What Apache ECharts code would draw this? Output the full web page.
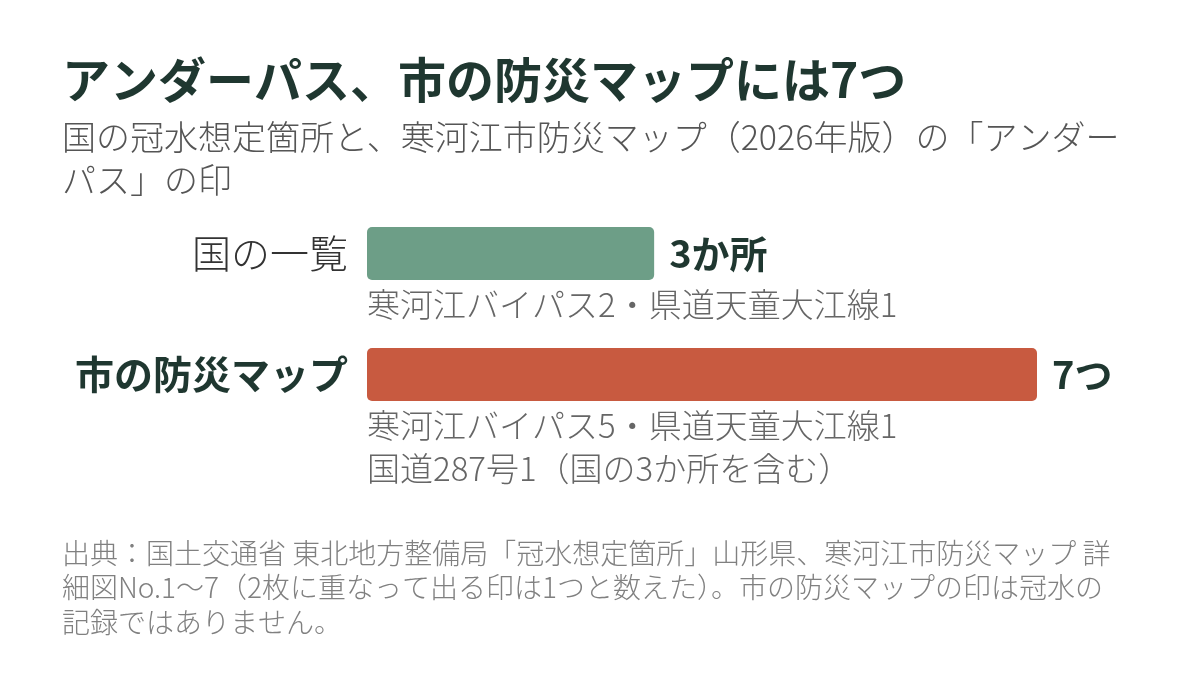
<!DOCTYPE html>
<html>
<head>
<meta charset="utf-8">
<script src="https://cdn.jsdelivr.net/npm/echarts@6/dist/echarts.min.js"></script>
<style>html,body{margin:0;padding:0;background:#fff;}#c{width:1200px;height:674px;}</style>
</head>
<body>
<div id="c"></div>
<script>
const categories = ['国の一覧', '市の防災マップ'];
const values = [3, 7];
const valueLabels = ['3か所', '7つ'];
const subLabels = ['寒河江バイパス2・県道天童大江線1', '寒河江バイパス5・県道天童大江線1\n国道287号1（国の3か所を含む）'];
const barColors = ['#6d9e87', '#c85a40'];
const titleText = 'アンダーパス、市の防災マップには7つ';
const subtitleText = '国の冠水想定箇所と、寒河江市防災マップ（2026年版）の「アンダー\nパス」の印';
const footText = '出典：国土交通省 東北地方整備局「冠水想定箇所」山形県、寒河江市防災マップ 詳\n細図No.1〜7（2枚に重なって出る印は1つと数えた）。市の防災マップの印は冠水の\n記録ではありません。';

const FONT = '"Noto Sans CJK JP", "Noto Sans", sans-serif';
const DARK = '#1f3730';
const chart = echarts.init(document.getElementById('c'));
chart.setOption({
  backgroundColor: '#ffffff',
  animation: false,
  textStyle: { fontFamily: FONT },
  title: [
    { text: titleText, left: 62, top: 56, padding: 0, textStyle: { fontFamily: FONT, fontSize: 48, fontWeight: 'bold', color: DARK } },
    { text: subtitleText, left: 62, top: 116, padding: 0, textStyle: { fontFamily: FONT, fontSize: 34, fontWeight: 300, color: '#555', lineHeight: 43 } },
    { text: footText, left: 62, top: 536, padding: 0, textStyle: { fontFamily: FONT, fontSize: 28, fontWeight: 300, color: '#808080', lineHeight: 34.5 } }
  ],
  grid: { left: 367, right: 163, top: 193, height: 242, containLabel: false },
  xAxis: { type: 'value', min: 0, max: 7, show: false },
  yAxis: {
    type: 'category', data: categories, inverse: true,
    axisLine: { show: false }, axisTick: { show: false },
    axisLabel: {
      margin: 19,
      formatter: (v, i) => i === 1 ? '{b|' + v + '}' : '{a|' + v + '}',
      rich: {
        a: { fontFamily: FONT, fontSize: 39, color: '#333', fontWeight: 300 },
        b: { fontFamily: FONT, fontSize: 39, color: DARK, fontWeight: 'bold' }
      }
    }
  },
  series: [
    {
      type: 'bar', barWidth: 53, silent: true,
      data: values.map((v, i) => ({ value: v, itemStyle: { color: barColors[i], borderRadius: 5 } })),
      label: {
        show: true, position: 'right', distance: 15,
        formatter: p => valueLabels[p.dataIndex],
        fontFamily: FONT, fontSize: 38, fontWeight: 'bold', color: DARK
      }
    },
    {
      type: 'bar', barWidth: 53, barGap: '-100%', silent: true,
      data: values,
      itemStyle: { color: 'rgba(0,0,0,0)' },
      label: {
        show: true, position: [0, '100%'], align: 'left', verticalAlign: 'top',
        offset: [0, 3],
        formatter: p => subLabels[p.dataIndex],
        fontFamily: FONT, fontSize: 33, fontWeight: 300, color: '#666', lineHeight: 43
      }
    }
  ]
});
</script>
</body>
</html>
